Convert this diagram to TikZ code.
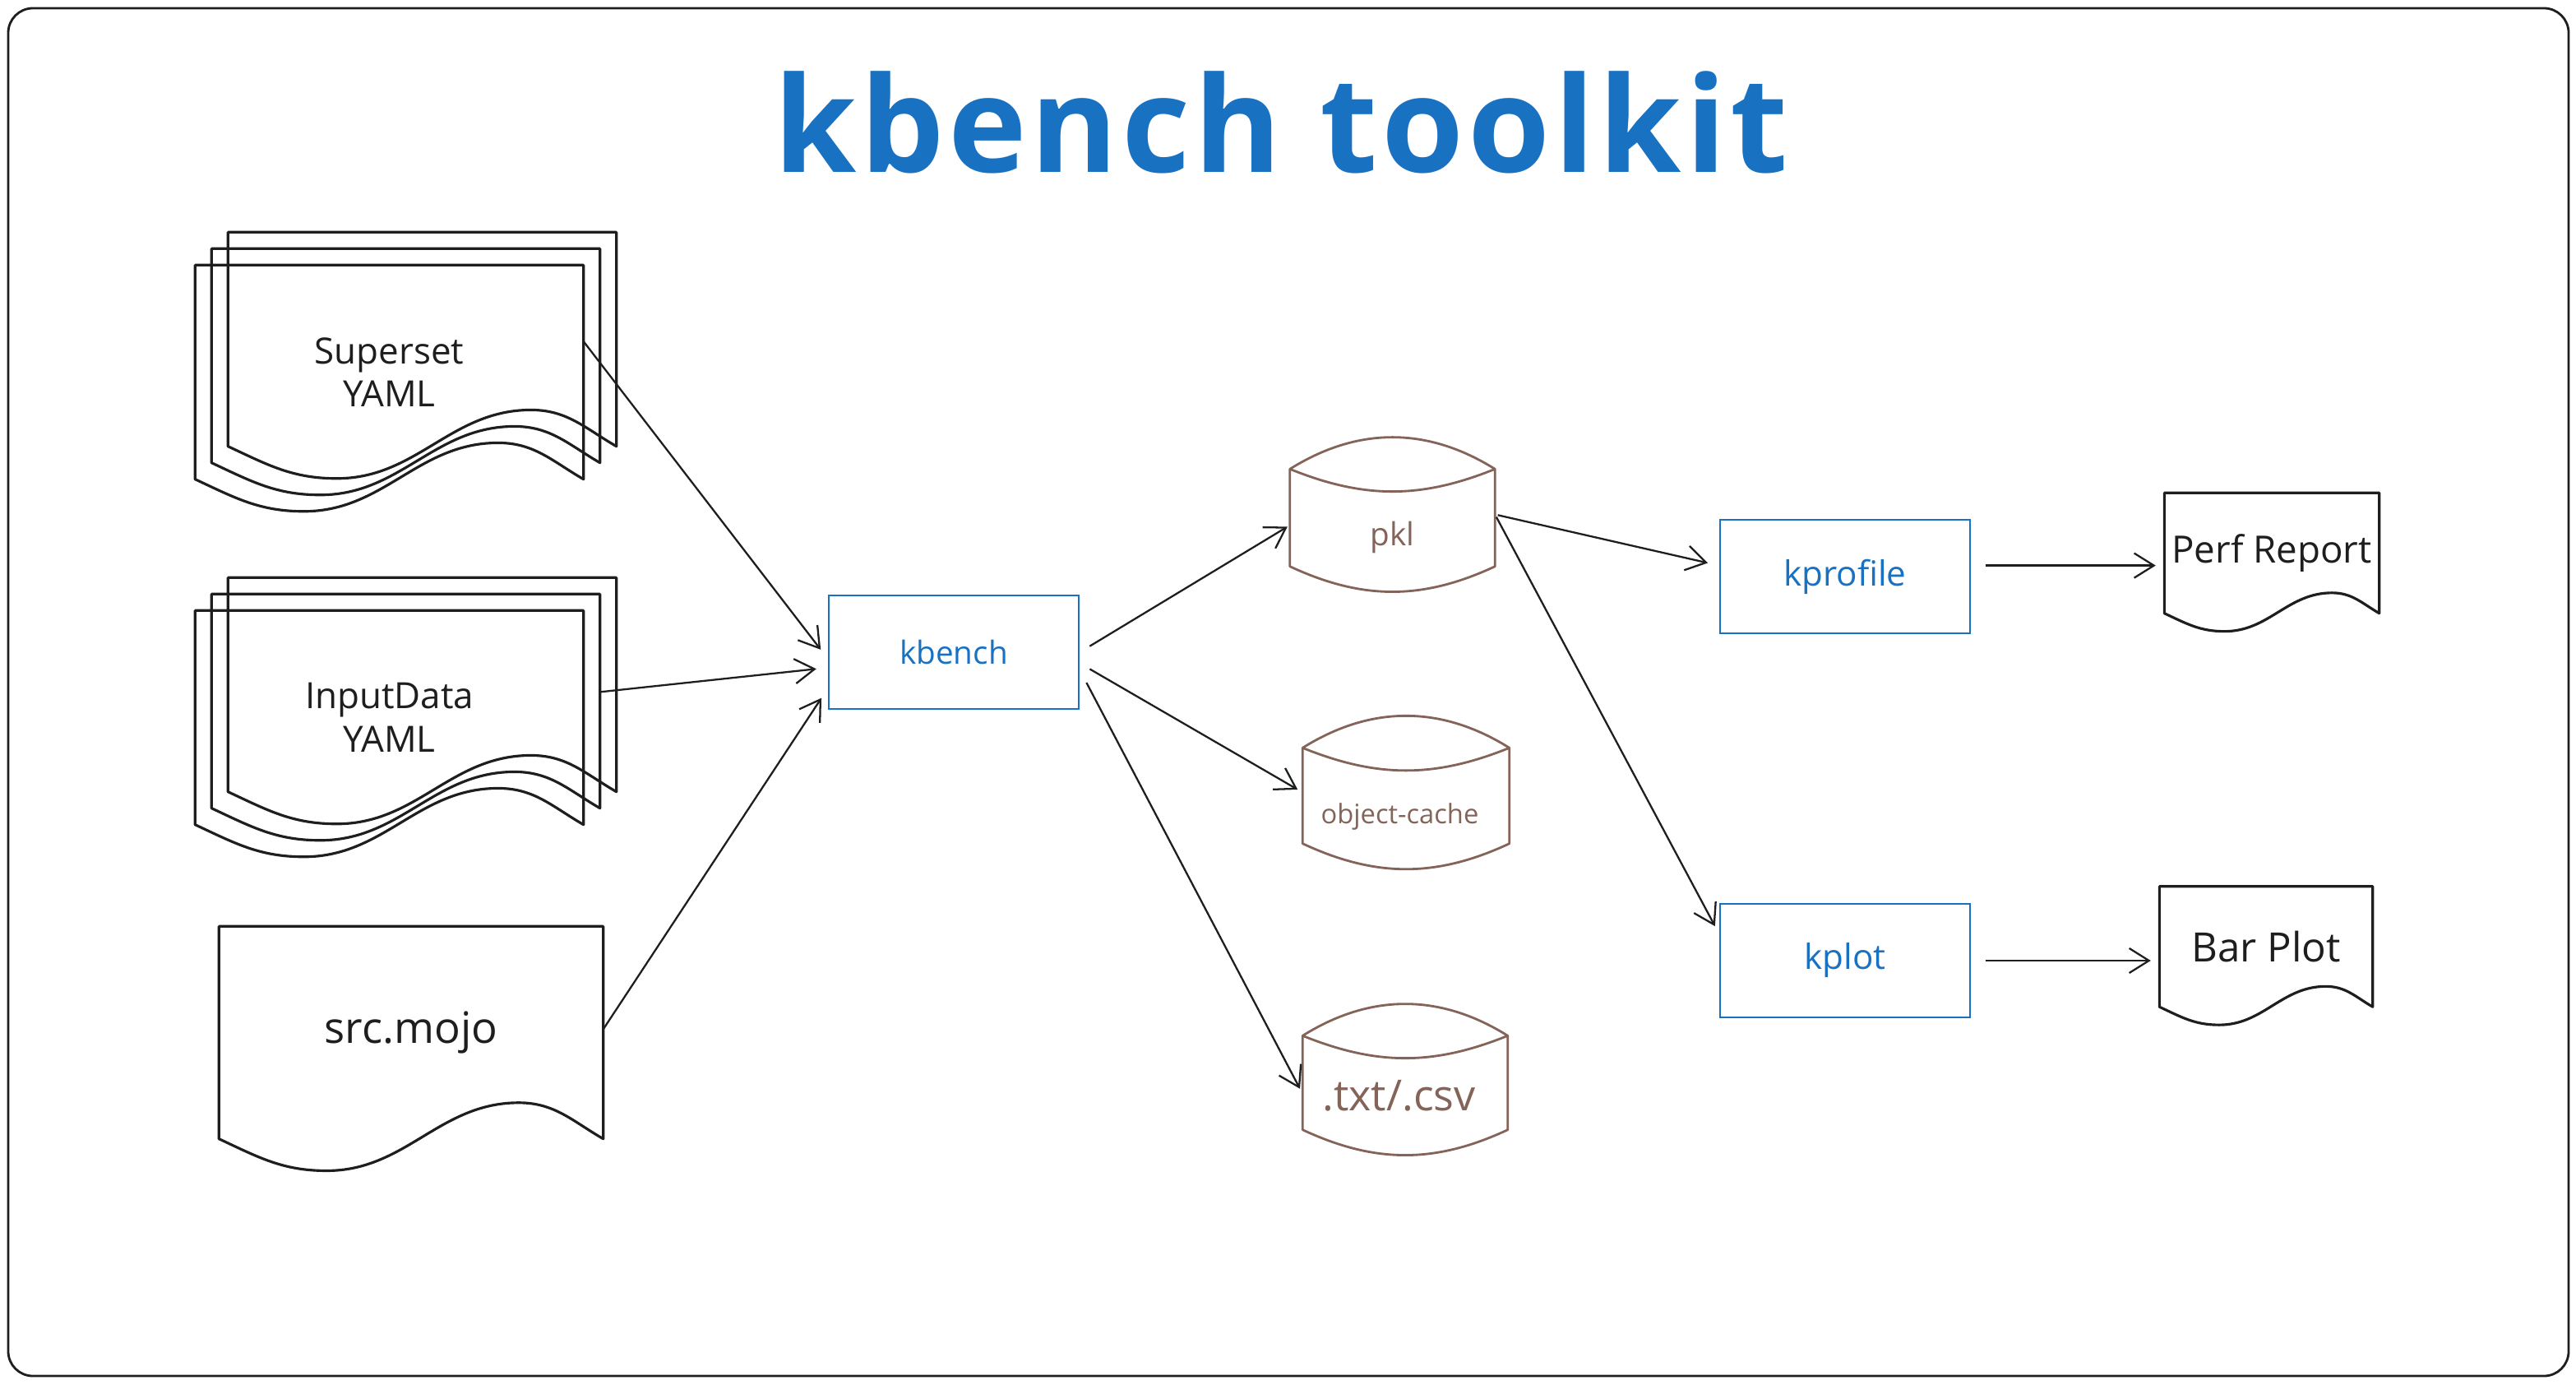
\documentclass[tikz,border=0pt]{standalone}
\usepackage{fontspec}
\setmainfont{Open Sans}
\newfontfamily\titlefont[LetterSpace=3]{Open Sans}
\usepackage{tikz}
\usetikzlibrary{arrows.meta}
\usetikzlibrary{positioning,shapes}
\usetikzlibrary{calc}

\definecolor{xblue}{HTML}{1971C2}
\definecolor{xbrown}{HTML}{846358}
\definecolor{xink}{HTML}{1E1E1E}

\tikzset{
  box/.style={draw=xblue, text=xblue, line width=0.7pt, minimum width=3.04cm, minimum height=1.38cm, font=\fontsize{11}{13}\selectfont},
  db/.style={rectangle, text=xbrown, minimum width=2.48cm, minimum height=1.84cm, text height=0.9cm, text depth=0.15cm},
  dbline/.style={draw=xbrown, line width=0.8pt, line join=round},
  doc/.style={rectangle, inner sep=0pt, minimum width=4.71cm, minimum height=2.59cm, align=center, text=xink, font=\fontsize{12.5}{15}\selectfont},
  smalldoc/.style={doc, minimum width=2.6cm, minimum height=1.45cm},
  docline/.style={draw=xink, line width=0.9pt, line join=round},
  flow/.style={->, >={Straight Barb[length=2.4mm,width=3mm]}, color=xink, line width=0.65pt}
}

% document outline with a wavy bottom, drawn round a node
\newcommand{\wavydoc}[1]{%
  \draw[docline] let \p1=(#1.south west), \p2=(#1.north east),
      \n1={\x2-\x1}, \n2={\y2-\y1} in
    (#1.south west) -- (#1.north west) -- (#1.north east) -- (#1.south east)
    to[out=150,in=0] (\x1+0.78*\n1,\y1+0.17*\n2)
    to[out=180,in=0] (\x1+0.28*\n1,\y1-0.15*\n2)
    to[out=180,in=-25] (#1.south west) -- cycle;}

% drum (database) outline round a node
\newcommand{\drum}[1]{%
  \draw[dbline] ($(#1.north west)+(0,-0.38)$) to[out=32,in=148] ($(#1.north east)+(0,-0.38)$)
    -- ($(#1.south east)+(0,0.3)$) to[out=-155,in=-25] ($(#1.south west)+(0,0.3)$) -- cycle
    ($(#1.north west)+(0,-0.38)$) to[out=-22,in=-158] ($(#1.north east)+(0,-0.38)$);}

\begin{document}
\begin{tikzpicture}
    \useasboundingbox (0,0) rectangle (31.33,-16.83);
    \draw[xink, line width=0.8pt, rounded corners=0.3cm] (0.10,-0.10) rectangle (31.24,-16.73);

    \node[font=\titlefont\bfseries\fontsize{46}{50}\selectfont, text=xblue, anchor=base] (title) at (15.58,-2.10) {kbench toolkit};

    \node[box] (kbench) at (11.60,-7.93) {kbench};
    \node[doc, left of=kbench, node distance=6.865cm, yshift=+3.405cm] (sup) {Superset\\YAML};
    \node[doc, xshift=2mm, yshift=2mm] (sup2) at (sup) {};
    \node[doc, xshift=4mm, yshift=4mm] (sup3) at (sup) {};
    \node[doc, left of=kbench, node distance=6.865cm, yshift=-0.795cm] (inp) {InputData\\YAML};
    \node[doc, xshift=2mm, yshift=2mm] (inp2) at (inp) {};
    \node[doc, xshift=4mm, yshift=4mm] (inp3) at (inp) {};
    \node[doc, minimum width=4.66cm, minimum height=2.57cm, font=\fontsize{15}{17}\selectfont, left of=kbench, node distance=6.60cm, yshift=-4.625cm] (src) {src.mojo};

    \node[db, minimum height=1.85cm, font=\fontsize{11}{13}\selectfont, right of=kbench, node distance=5.335cm, yshift=+1.675cm] (pkl) {pkl};
    \node[db, minimum width=2.50cm, minimum height=1.83cm, font=\fontsize{9.3}{11}\selectfont, right of=kbench, node distance=5.50cm, yshift=-1.705cm] (cache) {\hspace*{-0.15cm}object-cache};
    \node[db, minimum height=1.81cm, font=\fontsize{14.8}{17}\selectfont, right of=kbench, node distance=5.49cm, yshift=-5.195cm] (txt) {\hspace*{-0.15cm}.txt/.csv};

    \node[box, font=\fontsize{12}{14}\selectfont, right of=kbench, node distance=10.84cm, yshift=+0.92cm] (kprofile) {kprofile};
    \node[box, font=\fontsize{12}{14}\selectfont, below of=kprofile, node distance=4.67cm] (kplot) {kplot};
    \node[smalldoc, font=\fontsize{13}{15}\selectfont, right of=kprofile, node distance=5.19cm, yshift=+0.285cm] (perf) {Perf Report};
    \node[smalldoc, minimum width=2.58cm, font=\fontsize{14}{16}\selectfont, right of=kplot, node distance=5.12cm, yshift=+0.17cm] (bar) {Bar Plot};

    \wavydoc{sup3} \wavydoc{sup2} \wavydoc{sup}
    \wavydoc{inp3} \wavydoc{inp2} \wavydoc{inp}
    \wavydoc{src}
    \wavydoc{perf} \wavydoc{bar}
    \drum{pkl} \drum{cache} \drum{txt}

    \path[flow] (sup.9) edge[shorten >=4pt] (kbench.183);
    \path[flow] (inp.7) edge[shorten <=6pt, shorten >=4pt] (kbench.187);
    \path[flow] (src.1) edge[shorten >=4pt] (kbench.196);
    \path[flow] (kbench.east) edge[shorten <=4pt, shorten >=1pt] (pkl.186);
    \path[flow] (kbench.-5) edge[shorten <=4pt, shorten >=2pt] (cache.west);
    \path[flow] (kbench.-8) edge[shorten <=5pt, shorten >=2pt] (txt.188);
    \path[flow] (pkl.east) edge[shorten <=1pt, shorten >=4pt] (kprofile.175);
    \path[flow] (pkl.east) edge[shorten <=1pt, shorten >=3pt] (kplot.168);
    \path[flow] (kprofile.5) edge[shorten <=5pt, shorten >=3pt] (kprofile.5 -| perf.west);
    \path[flow] (kplot.east) edge[shorten <=5pt, shorten >=3pt] (kplot.east -| bar.west);
\end{tikzpicture}
\end{document}
